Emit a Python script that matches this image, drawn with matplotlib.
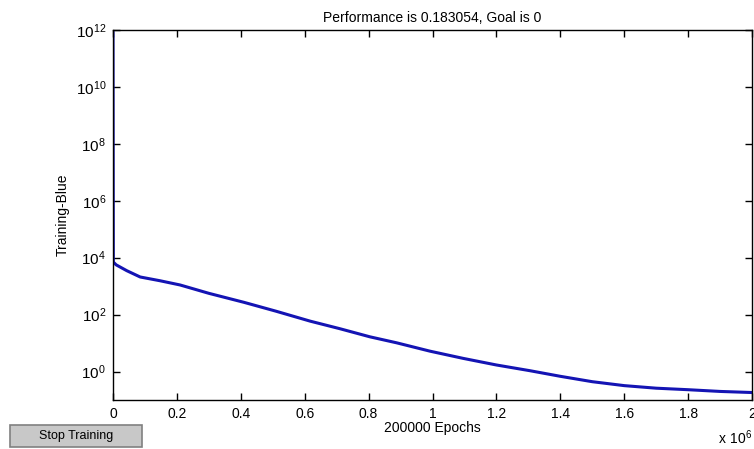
import matplotlib.pyplot as plt
from matplotlib.patches import Rectangle

plt.rcParams['font.family'] = ['Liberation Sans', 'DejaVu Sans']
plt.rcParams['mathtext.default'] = 'regular'

# training curve (epochs in millions)
epochs = [0, 0.001, 0.01, 0.043, 0.085, 0.147, 0.21, 0.30, 0.41, 0.51, 0.617, 0.71,
          0.804, 0.888, 0.992, 1.096, 1.20, 1.305, 1.40, 1.5, 1.6, 1.7, 1.8, 1.9, 2.0]
perf = [8e11, 7e3, 5.6e3, 3.5e3, 2.1e3, 1.55e3, 1.1e3, 560, 270, 132, 59, 32,
        16.6, 10.2, 5.2, 2.9, 1.7, 1.07, 0.68, 0.44, 0.32, 0.26, 0.23, 0.2, 0.183054]

xticks = [0, 0.2, 0.4, 0.6, 0.8, 1.0, 1.2, 1.4, 1.6, 1.8, 2.0]
xlabels = ['0', '0.2', '0.4', '0.6', '0.8', '1', '1.2', '1.4', '1.6', '1.8', '2']
yexp = [0, 2, 4, 6, 8, 10, 12]

fig = plt.figure(figsize=(7.54, 4.49), dpi=100)
ax = fig.add_axes([113 / 754, 1 - 400 / 449, 639 / 754, 370 / 449])

ax.plot(epochs, perf, color='#1414b4', lw=2.2)
ax.set_yscale('log')
ax.set_xlim(0, 2)
ax.set_ylim(1e-1, 1e12)

ax.set_xticks(xticks)
ax.set_xticklabels(xlabels, fontsize=10)
ax.set_yticks([10.0 ** e for e in yexp])
ax.set_yticklabels(['$10^{%d}$' % e for e in yexp], fontsize=11)
ax.minorticks_off()
ax.tick_params(direction='in', length=5, top=True, right=True, width=1, pad=5)
for s in ax.spines.values():
    s.set_linewidth(1)

ax.set_title('Performance is 0.183054, Goal is 0', fontsize=10, pad=6)
ax.set_xlabel('200000 Epochs', fontsize=10, labelpad=0)
ax.set_ylabel('Training-Blue', fontsize=10, labelpad=4)
fig.text(735 / 754, 1 - 438 / 449, '$x\\ 10^{6}$', fontsize=10, ha='center', va='center')

# "Stop Training" button
btn = Rectangle((10 / 754, 1 - 447 / 449), 132 / 754, 22 / 449, transform=fig.transFigure,
                facecolor='#c8c8c8', edgecolor='#808080', lw=1.2)
fig.patches.append(btn)
fig.text(76 / 754, 1 - 436 / 449, 'Stop Training', fontsize=9, ha='center', va='center')

fig.savefig('out.png', dpi=100)
